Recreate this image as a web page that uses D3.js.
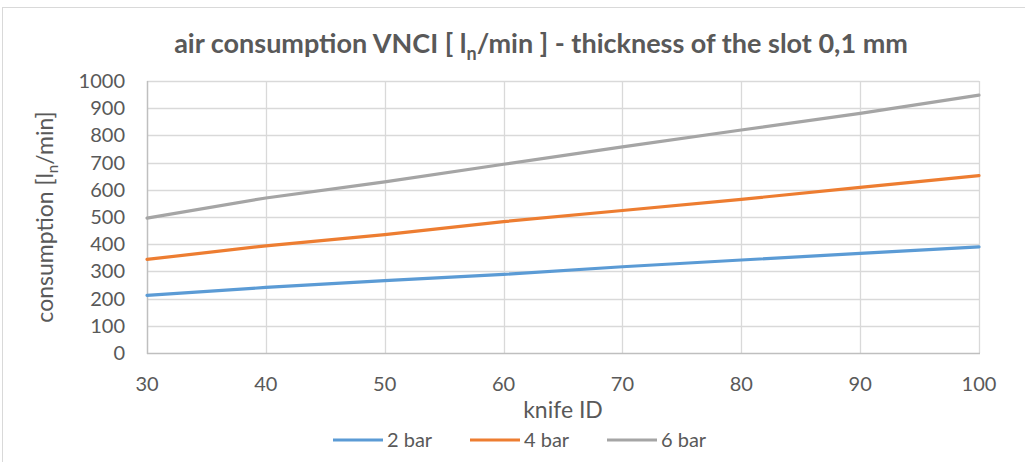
<!DOCTYPE html>
<html>
<head>
<meta charset="utf-8">
<script src="https://cdn.jsdelivr.net/npm/d3@7"></script>
<style>
  html, body { margin: 0; padding: 0; background: #ffffff; }
  svg text { font-family: Lato, "Liberation Sans", sans-serif; fill: #595959; }
</style>
</head>
<body>
<div id="chart"></div>
<script>
// Data
var knifeIds = [30, 40, 50, 60, 70, 80, 90, 100];
var bar2 = [212, 241, 266, 289, 317, 342, 366, 390];
var bar4 = [344, 394, 435, 483, 524, 565, 609, 652];
var bar6 = [496, 570, 629, 694, 758, 820, 881, 948];
var seriesNames = ["2 bar", "4 bar", "6 bar"];
var xTicks = [30, 40, 50, 60, 70, 80, 90, 100];
var yTicks = [0, 100, 200, 300, 400, 500, 600, 700, 800, 900, 1000];

const blue = "#5B9BD5";
const orange = "#ED7D31";
const grey = "#A5A5A5";
var colours = [blue, orange, grey];

var width = 1025, height = 462;
var plotLeft = 147, plotRight = 979, plotTop = 81, plotBottom = 353;

var series = [bar2, bar4, bar6].map(function(vals, i) {
    return {
        name: seriesNames[i],
        colour: colours[i],
        points: vals.map(function(v, j) { return { x: knifeIds[j], y: v }; })
    };
});

var svg = d3.select("#chart")
    .append("svg")
    .attr("width", width)
    .attr("height", height);

// Chart area border
svg.append("rect")
    .attr("x", 2.5)
    .attr("y", 7.5)
    .attr("width", 1040)
    .attr("height", 500)
    .attr("fill", "#ffffff")
    .attr("stroke", "#d9d9d9")
    .attr("stroke-width", 1);

var x = d3.scaleLinear().domain([30, 100]).range([plotLeft, plotRight]);
var y = d3.scaleLinear().domain([0, 1000]).range([plotBottom, plotTop]);

// Gridlines
svg.selectAll("line.hgrid")
    .data(yTicks.filter(function(d) { return d > 0; }))
    .enter()
    .append("line")
    .attr("class", "hgrid")
    .attr("x1", plotLeft)
    .attr("x2", plotRight)
    .attr("y1", function(d) { return Math.round(y(d)) + 0.5; })
    .attr("y2", function(d) { return Math.round(y(d)) + 0.5; })
    .attr("stroke", "#d9d9d9")
    .attr("stroke-width", 1.3);

svg.selectAll("line.vgrid")
    .data(xTicks.filter(function(d) { return d > 30; }))
    .enter()
    .append("line")
    .attr("class", "vgrid")
    .attr("x1", function(d) { return Math.round(x(d)) + 0.5; })
    .attr("x2", function(d) { return Math.round(x(d)) + 0.5; })
    .attr("y1", plotTop)
    .attr("y2", plotBottom)
    .attr("stroke", "#d9d9d9")
    .attr("stroke-width", 1.3);

// Axis lines
svg.append("line")
    .attr("x1", plotLeft + 0.5).attr("x2", plotLeft + 0.5)
    .attr("y1", plotTop).attr("y2", plotBottom + 1)
    .attr("stroke", "#bfbfbf").attr("stroke-width", 1.5);
svg.append("line")
    .attr("x1", plotLeft).attr("x2", plotRight + 1)
    .attr("y1", plotBottom + 0.5).attr("y2", plotBottom + 0.5)
    .attr("stroke", "#bfbfbf").attr("stroke-width", 1.5);

// Tick labels
svg.selectAll("text.ytick")
    .data(yTicks)
    .enter()
    .append("text")
    .attr("class", "ytick")
    .attr("x", 125)
    .attr("y", function(d) { return y(d); })
    .attr("dy", "0.35em")
    .attr("text-anchor", "end")
    .style("font-size", "20px")
    .text(function(d) { return d; });

svg.selectAll("text.xtick")
    .data(xTicks)
    .enter()
    .append("text")
    .attr("class", "xtick")
    .attr("x", function(d) { return x(d); })
    .attr("y", 391)
    .attr("text-anchor", "middle")
    .style("font-size", "20px")
    .text(function(d) { return d; });

// Lines
var line = d3.line()
    .x(function(d) { return x(d.x); })
    .y(function(d) { return y(d.y); });

svg.selectAll("path.series")
    .data(series)
    .enter()
    .append("path")
    .attr("class", "series")
    .attr("d", function(d) { return line(d.points); })
    .attr("fill", "none")
    .attr("stroke", function(d) { return d.colour; })
    .attr("stroke-width", 3.2)
    .attr("stroke-linecap", "round");

// Title
var title = svg.append("text")
    .attr("x", 541)
    .attr("y", 53)
    .attr("text-anchor", "middle")
    .style("font-size", "27px")
    .style("font-weight", "bold");
title.append("tspan").text("air consumption VNCI [ l");
title.append("tspan").attr("dy", 7).style("font-size", "18px").text("n");
title.append("tspan").attr("dy", -7).text("/min ] - thickness of the slot 0,1 mm");

// Axis titles
svg.append("text")
    .attr("x", (plotLeft + plotRight) / 2)
    .attr("y", 418)
    .attr("text-anchor", "middle")
    .style("font-size", "23px")
    .text("knife ID");

var ylab = svg.append("text")
    .attr("transform", "translate(53," + ((plotTop + plotBottom) / 2) + ") rotate(-90)")
    .attr("text-anchor", "middle")
    .style("font-size", "23px");
ylab.append("tspan").text("consumption [l");
ylab.append("tspan").attr("dy", 5).style("font-size", "15px").text("n");
ylab.append("tspan").attr("dy", -5).text("/min]");

// Legend
var legend = svg.selectAll("g.legend")
    .data(series)
    .enter()
    .append("g")
    .attr("class", "legend")
    .attr("transform", function(d, i) { return "translate(" + (333 + i * 137) + ",440)"; });

legend.append("line")
    .attr("x1", 0).attr("x2", 50)
    .attr("y1", 0).attr("y2", 0)
    .attr("stroke", function(d) { return d.colour; })
    .attr("stroke-width", 3.2);

legend.append("text")
    .attr("x", 54)
    .attr("y", 0)
    .attr("dy", "0.35em")
    .style("font-size", "20px")
    .text(function(d) { return d.name; });
</script>
</body>
</html>
